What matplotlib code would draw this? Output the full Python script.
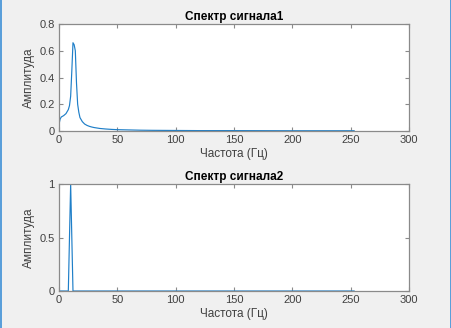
import matplotlib
matplotlib.use('Agg')
import matplotlib.pyplot as plt
from matplotlib.lines import Line2D

# Спектр сигнала1 (частоты, Гц, и амплитуды)
freq1 = [0, 1, 2, 4, 6, 8, 9, 10, 11, 12, 13, 14, 15, 16, 17, 18, 20, 22, 24,
         26, 28, 30, 35, 40, 45, 50, 60, 70, 80, 100, 120, 150, 200, 253]
amp1 = [0.05, 0.09, 0.105, 0.115, 0.13, 0.16, 0.19, 0.26, 0.45, 0.66, 0.645,
        0.60, 0.36, 0.20, 0.14, 0.10, 0.07, 0.052, 0.042, 0.035, 0.03, 0.026,
        0.019, 0.015, 0.012, 0.01, 0.008, 0.006, 0.005, 0.004, 0.003, 0.003,
        0.002, 0.002]

# Спектр сигнала2
freq2 = [0, 2, 4, 6, 8, 10, 12, 14, 50, 100, 150, 200, 253]
amp2 = [0, 0, 0, 0, 0, 1.0, 0, 0, 0, 0, 0, 0, 0]

titles = ['Спектр сигнала1', 'Спектр сигнала2']
xticks = [0, 50, 100, 150, 200, 250, 300]
yticks1 = [0, 0.2, 0.4, 0.6, 0.8]
yticks2 = [0, 0.5, 1]

plt.rcParams['font.family'] = ['Liberation Sans', 'DejaVu Sans']
fig = plt.figure(figsize=(4.52, 3.28), dpi=100, facecolor='#f0f0f0')

ax1 = fig.add_axes([0.1305, 0.6006, 0.7743, 0.3262])
ax2 = fig.add_axes([0.1305, 0.1128, 0.7743, 0.3262])

data = [(ax1, freq1, amp1, (0, 0.8), yticks1, ['0', '0.2', '0.4', '0.6', '0.8']),
        (ax2, freq2, amp2, (0, 1), yticks2, ['0', '0.5', '1'])]

for i, (ax, f, a, ylim, yt, ytl) in enumerate(data):
    ax.plot(f, a, color='#1f7fc8', lw=0.85)
    ax.set_xlim(0, 300)
    ax.set_ylim(*ylim)
    ax.set_xticks(xticks)
    ax.set_yticks(yt)
    ax.set_yticklabels(ytl)
    ax.set_facecolor('white')
    for s in ax.spines.values():
        s.set_color('#8a8a8a')
        s.set_linewidth(0.9)
    ax.tick_params(direction='in', length=3, width=0.8, color='#8a8a8a',
                   labelsize=8, labelcolor='#404040', top=True, right=True, pad=3)
    ax.set_title(titles[i], fontsize=8.5, fontweight='bold', pad=3)
    ax.set_xlabel('Частота (Гц)', fontsize=8.5, color='#404040', labelpad=2)
    ax.set_ylabel('Амплитуда', fontsize=8.5, color='#404040', labelpad=3)

# тонкая синяя рамка окна по краям
fig.add_artist(Line2D([0.002, 0.002], [0, 1], color='#3c8fd6', lw=1.2, transform=fig.transFigure))
fig.add_artist(Line2D([0.997, 0.997], [0, 1], color='#3c8fd6', lw=1.2, transform=fig.transFigure))

fig.savefig('out.png', dpi=100, facecolor=fig.get_facecolor())
